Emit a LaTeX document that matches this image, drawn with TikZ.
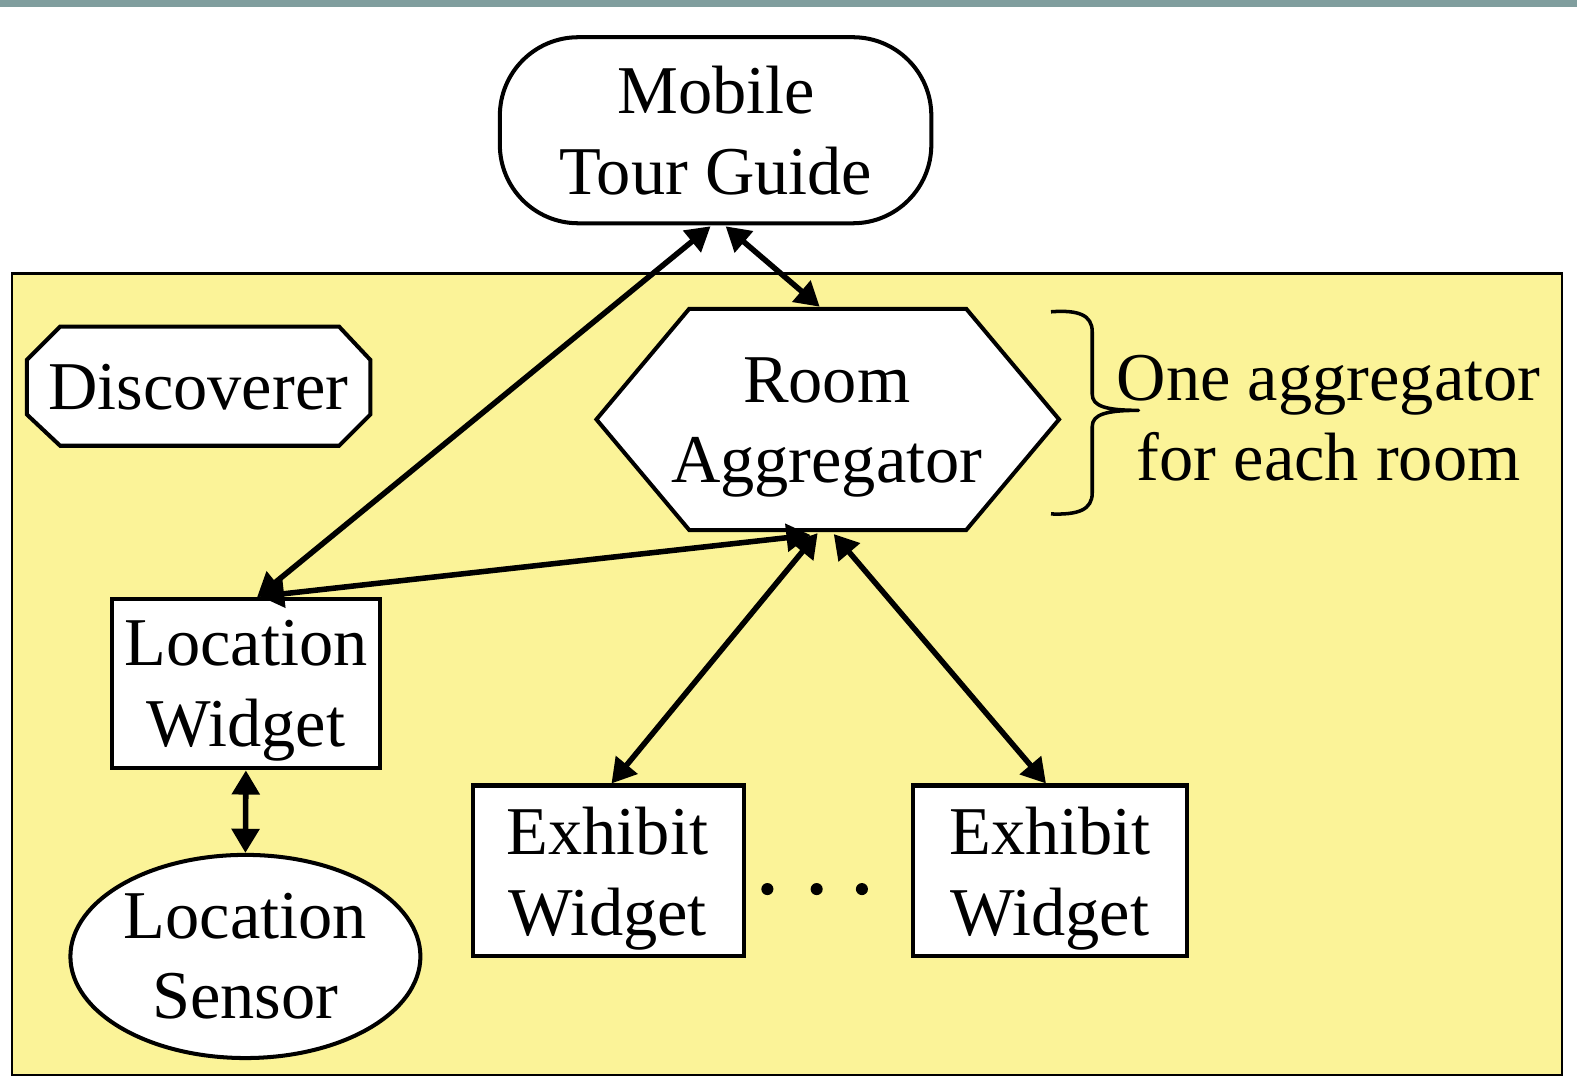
\documentclass[tikz,border=0pt]{standalone}
\usepackage{fontspec}
\setmainfont{Liberation Serif}
\usetikzlibrary{arrows.meta,shapes.symbols,shapes.geometric,calc}
\definecolor{barcol}{RGB}{128,158,158}
\definecolor{roomcol}{RGB}{251,243,152}
\newcommand\twoline[2]{\begin{tabular}[t]{@{}c@{}}#1\\#2\end{tabular}}
\begin{document}
\begin{tikzpicture}[x=1pt,y=-1pt,
  lbl/.style={font=\fontsize{68}{80}\selectfont, inner sep=0pt, anchor=base},
  shp/.style={draw=black, line width=4pt, fill=white, inner sep=0pt},
  conn/.style={line width=5.5pt, {Triangle[length=24pt,width=27pt]}-{Triangle[length=24pt,width=27pt]}}
]
\useasboundingbox (0,0) rectangle (1568,1076);
% top bar
\fill[barcol] (0,0) rectangle (1568,7);
% room area
\node[draw=black, line width=2.2pt, fill=roomcol, minimum width=1541pt, minimum height=797pt, inner sep=0pt] (room) at (782.5,670.5) {};
% nodes (shapes)
\node[shp, rounded corners=78pt, minimum width=429pt, minimum height=185pt] (mtg) at (711.5,129.5) {};
\node[inner sep=0pt, minimum width=341pt, minimum height=118pt] (disc) at (197.5,384) {};
\draw[shp] ($(disc.north west)+(33,0)$) -- ($(disc.north east)+(-31,0)$) -- ($(disc.north east)+(0,33)$)
  -- ($(disc.south east)+(0,-31)$) -- ($(disc.south east)+(-31,0)$) -- ($(disc.south west)+(33,0)$)
  -- ($(disc.south west)+(0,-31)$) -- ($(disc.north west)+(0,33)$) -- cycle;
\node[shp, signal, signal to=east and west, signal pointer angle=100, minimum width=460pt, minimum height=220pt] (ra) at (823,417) {};
\node[shp, rectangle, minimum width=267pt, minimum height=168pt] (lw) at (244.5,680) {};
\node[shp, ellipse, minimum width=348pt, minimum height=202pt] (ls) at (244,951) {};
\node[shp, rectangle, minimum width=270pt, minimum height=170pt] (ew1) at (605,866) {};
\node[shp, rectangle, minimum width=272pt, minimum height=170pt] (ew2) at (1044,866) {};
% labels
\node[lbl] (mtgt) at (712,113) {\twoline{Mobile}{Tour Guide}};
\node[lbl] (disct) at (197,407) {Discoverer};
\node[lbl] (rat) at (822,400) {\twoline{Room}{Aggregator}};
\node[lbl] (lwt) at (244.5,662) {\twoline{Location}{Widget}};
\node[lbl] (lst) at (244,933) {\twoline{Location}{Sensor}};
\node[lbl] (ew1t) at (604,850) {\twoline{Exhibit}{Widget}};
\node[lbl] (ew2t) at (1044,850) {\twoline{Exhibit}{Widget}};
\node[lbl] (note) at (1321,398) {\twoline{One aggregator}{for each room}};
% dots
\foreach \x/\n in {763/d1,812/d2,857/d3} \fill (\x,884) circle (6pt) coordinate (\n);
% brace
\coordinate (bt) at (1045,310);
\coordinate (bb) at (1045,511);
\coordinate (btip) at (1132,408);
\draw[line width=3.5pt, line join=round] (bt) .. controls (1072,308) and (1086,313) .. (1086,330)
  -- (1086,392) .. controls (1086,404) and (1100,408) .. (btip)
  .. controls (1100,408) and (1086,412) .. (1086,424)
  -- (1086,490) .. controls (1086,507) and (1072,512) .. (bb);
% connectors
\draw[conn] ($(mtg.south)+(-5,1)$) -- ($(lw.north)+(11,0)$);
\draw[conn] ($(mtg.south)+(10,1)$) -- ($(ra.north)+(-8,0)$);
\draw[conn] ($(ra.south)+(-17,3)$) -- ($(lw.north)+(14,-1)$);
\draw[conn] ($(ra.south)+(-10,1)$) -- ($(ew1.north)+(3,0)$);
\draw[conn] ($(ra.south)+(6,2)$) -- ($(ew2.north)+(-4,0)$);
\draw[conn] (lw.south) -- (ls.north);
\end{tikzpicture}
\end{document}
